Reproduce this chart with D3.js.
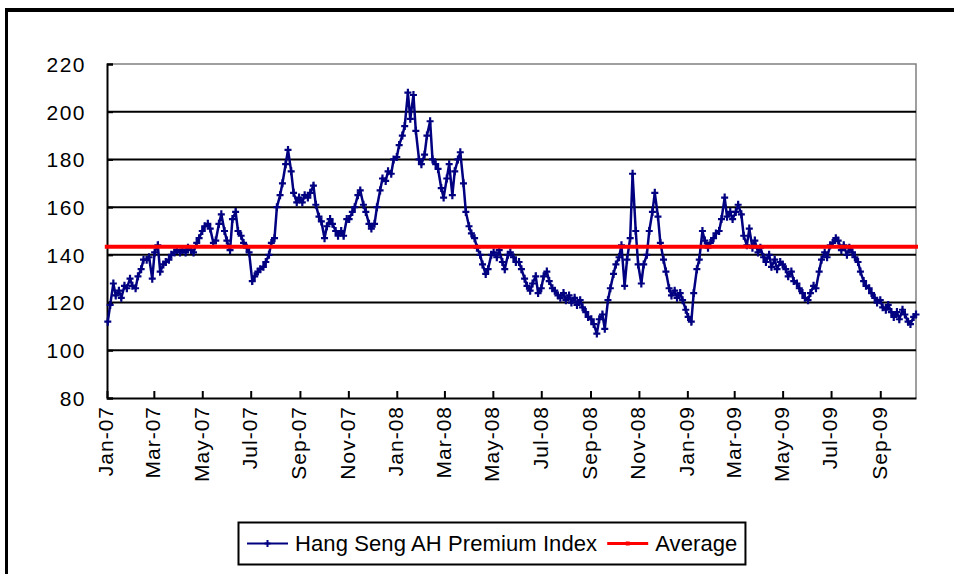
<!DOCTYPE html>
<html>
<head>
<meta charset="utf-8">
<script src="https://cdn.jsdelivr.net/npm/d3@7"></script>
<style>
  body { margin: 0; background: #fff; }
  svg { display: block; font-family: "Liberation Sans", Arial, Helvetica, sans-serif; }
</style>
</head>
<body>
<svg id="chart" width="954" height="574"></svg>
<script>
// trading days sampled twice a week (Tue / Fri), grouped by month
const months = ["2007-01","2007-02","2007-03","2007-04","2007-05","2007-06","2007-07","2007-08","2007-09","2007-10","2007-11","2007-12",
  "2008-01","2008-02","2008-03","2008-04","2008-05","2008-06","2008-07","2008-08","2008-09","2008-10","2008-11","2008-12",
  "2009-01","2009-02","2009-03","2009-04","2009-05","2009-06","2009-07","2009-08","2009-09","2009-10"];

const tradeDays = [
  [2,5,9,12,16,19,23,26,30], [2,6,9,13,16,20,23,27], [2,6,9,13,16,20,23,27,30], [3,6,10,13,17,20,24,27],
  [1,4,8,11,15,18,22,25,29], [1,5,8,12,15,19,22,26,29], [3,6,10,13,17,20,24,27,31], [3,7,10,14,17,21,24,28,31],
  [4,7,11,14,18,21,25,28], [2,5,9,12,16,19,23,26,30], [2,6,9,13,16,20,23,27,30], [4,7,11,14,18,21,25,28],
  [1,4,8,11,15,18,22,25,29], [1,5,8,12,15,19,22,26,29], [4,7,11,14,18,21,25,28], [1,4,8,11,15,18,22,25,29],
  [2,6,9,13,16,20,23,27,30], [3,6,10,13,17,20,24,27], [1,4,8,11,15,18,22,25,29], [1,5,8,12,15,19,22,26,29],
  [2,5,9,12,16,19,23,26,30], [3,7,10,14,17,21,24,28,31], [4,7,11,14,18,21,25,28], [2,5,9,12,16,19,23,26,30],
  [2,6,9,13,16,20,23,27,30], [3,6,10,13,17,20,24,27], [3,6,10,13,17,20,24,27,31], [3,7,10,14,17,21,24,28],
  [1,5,8,12,15,19,22,26,29], [2,5,9,12,16,19,23,26,30], [3,7,10,14,17,21,24,28,31], [4,7,11,14,18,21,25,28],
  [1,4,8,11,15,18,22,25,29], [2,6,9,13,16]
];

// Hang Seng AH Premium Index
const premium = [
  [112,119,128,123,125,122,127,126,130], [127,126,131,134,138,138,139,130], [141,144,133,136,137,138,140,141,142], [141,142,141,143,142,141,145,147],
  [150,152,153,151,145,146,153,157,150], [146,142,155,158,150,148,145,143,141], [129,131,133,134,135,137,140,145,147], [160,165,170,178,184,175,166,162,164],
  [162,165,164,166,169,161,156,154], [147,152,155,153,150,148,150,148,155], [155,158,160,165,167,161,158,153,151], [153,160,167,172,171,175,174,180],
  [181,186,190,194,208,197,207,192,180], [178,182,190,196,180,178,176,168,164], [172,178,165,175,180,183,170,158], [152,149,147,143,140,136,132,134,140],
  [141,139,142,137,134,140,141,139,137], [137,134,130,127,125,128,131,124], [126,131,133,129,126,125,123,122,124], [121,123,120,122,119,121,118,116,114],
  [113,111,107,113,115,109,121,126,132], [136,139,144,127,138,147,174,150,136], [128,136,140,150,158,166,156,145], [138,133,126,123,125,122,124,121,117],
  [114,112,124,134,138,150,146,143,145], [147,149,150,155,164,156,158,155], [158,161,157,148,144,151,143,146,141], [143,139,137,140,135,138,134,137],
  [136,134,131,133,129,128,126,124,122], [121,124,127,126,133,138,141,139,144], [145,147,146,142,144,140,143,141,139], [137,133,129,127,126,124,122,120],
  [121,118,117,119,116,114,116,113,117], [115,112,111,114,115]
];

const averageValue = 143.4;
const yTicks = [80, 100, 120, 140, 160, 180, 200, 220];
const seriesNames = ["Hang Seng AH Premium Index", "Average"];
const colors = { index: "#000080", average: "#ff0000" };

const parseDate = d3.timeParse("%Y-%m-%d");
const points = [];
months.forEach((m, i) => {
  tradeDays[i].forEach((d, j) => {
    points.push({ date: parseDate(`${m}-${String(d).padStart(2, "0")}`), value: premium[i][j] });
  });
});

const svg = d3.select("#chart");
const plot = { left: 107, right: 916, top: 64, bottom: 398 };

// outer chart frame (only top and left edges fall inside the picture)
svg.append("rect").attr("width", 954).attr("height", 574).attr("fill", "#fff");
svg.append("line").attr("x1", 5).attr("x2", 954).attr("y1", 10).attr("y2", 10)
  .attr("stroke", "#000").attr("stroke-width", 4);
svg.append("line").attr("x1", 6.5).attr("x2", 6.5).attr("y1", 8).attr("y2", 574)
  .attr("stroke", "#000").attr("stroke-width", 3);

const x = d3.scaleTime()
  .domain([parseDate("2007-01-01"), points[points.length - 1].date])
  .range([plot.left, plot.right]);
const y = d3.scaleLinear()
  .domain([80, 220])
  .range([plot.bottom, plot.top]);

// plot area border (grey top / right)
svg.append("path")
  .attr("d", `M${plot.left},${plot.top}H${plot.right}V${plot.bottom}`)
  .attr("fill", "none").attr("stroke", "#808080").attr("stroke-width", 1.5);

// gridlines
svg.append("g")
  .selectAll("line")
  .data(yTicks.filter(t => t > 80 && t < 220))
  .join("line")
  .attr("x1", plot.left).attr("x2", plot.right)
  .attr("y1", d => y(d)).attr("y2", d => y(d))
  .attr("stroke", "#000").attr("stroke-width", 2);

// y axis
const yAxis = svg.append("g")
  .attr("transform", `translate(${plot.left},0)`)
  .call(d3.axisRight(y).tickValues(yTicks).tickSize(6).tickFormat(d3.format("d")));
yAxis.select(".domain").attr("stroke", "#000").attr("stroke-width", 2);
yAxis.selectAll(".tick line").attr("stroke", "#000").attr("stroke-width", 2);
yAxis.selectAll(".tick text")
  .attr("x", -21)
  .attr("dy", "0.35em")
  .attr("text-anchor", "end")
  .attr("fill", "#000")
  .style("font-size", "21px")
  .style("letter-spacing", "1.5px")
  .style("font-family", "\"Liberation Sans\", Arial, sans-serif");

// x axis, ticks point inward
const xAxis = svg.append("g")
  .attr("transform", `translate(0,${plot.bottom})`)
  .call(d3.axisBottom(x)
    .ticks(d3.timeMonth.every(2))
    .tickSizeInner(-7).tickSizeOuter(0)
    .tickFormat(d3.timeFormat("%b-%y")));
xAxis.select(".domain").attr("stroke", "#000").attr("stroke-width", 2);
xAxis.selectAll(".tick line").attr("stroke", "#000").attr("stroke-width", 2);
xAxis.selectAll(".tick text")
  .attr("transform", "rotate(-90)")
  .attr("x", -8)
  .attr("y", -1.5)
  .attr("dy", "0.35em")
  .attr("text-anchor", "end")
  .attr("fill", "#000")
  .style("font-size", "21px")
  .style("letter-spacing", "1px")
  .style("font-family", "\"Liberation Sans\", Arial, sans-serif");

// index series: line with plus markers
const line = d3.line().x(d => x(d.date)).y(d => y(d.value));
svg.append("path")
  .datum(points)
  .attr("d", line)
  .attr("fill", "none")
  .attr("stroke", colors.index)
  .attr("stroke-width", 2.5);

const plus = "M-3.5,0H3.5M0,-4V4";
svg.append("g")
  .selectAll("path")
  .data(points)
  .join("path")
  .attr("transform", d => `translate(${x(d.date)},${y(d.value)})`)
  .attr("d", plus)
  .attr("stroke", colors.index)
  .attr("stroke-width", 2.2);

// average
svg.append("line")
  .attr("x1", x(points[0].date) - 3).attr("x2", plot.right + 2)
  .attr("y1", y(averageValue)).attr("y2", y(averageValue))
  .attr("stroke", colors.average).attr("stroke-width", 4);

// legend
const legend = svg.append("g");
const legendBox = legend.append("rect")
  .attr("x", 238.5).attr("y", 522.5).attr("height", 42)
  .attr("fill", "#fff").attr("stroke", "#000").attr("stroke-width", 2);

let cx = 247;
const ly = 543.5;
seriesNames.forEach((name, i) => {
  const c = i === 0 ? colors.index : colors.average;
  legend.append("line")
    .attr("x1", cx).attr("x2", cx + 41).attr("y1", ly).attr("y2", ly)
    .attr("stroke", c).attr("stroke-width", i === 0 ? 2 : 3);
  legend.append("path")
    .attr("transform", `translate(${cx + 20.5},${ly})`)
    .attr("d", i === 0 ? "M-3,0H3M0,-3.5V3.5" : "M-2,-1.5H2V1.5H-2Z")
    .attr("stroke", c).attr("fill", c).attr("stroke-width", i === 0 ? 2 : 1);
  const t = legend.append("text")
    .attr("x", cx + 48).attr("y", ly).attr("dy", "0.35em")
    .style("font-size", "22px")
    .style("letter-spacing", "0.1px")
    .text(name);
  cx += 48 + t.node().getComputedTextLength() + 10;
});
legendBox.attr("width", cx - 238.5 - 2);
</script>
</body>
</html>
